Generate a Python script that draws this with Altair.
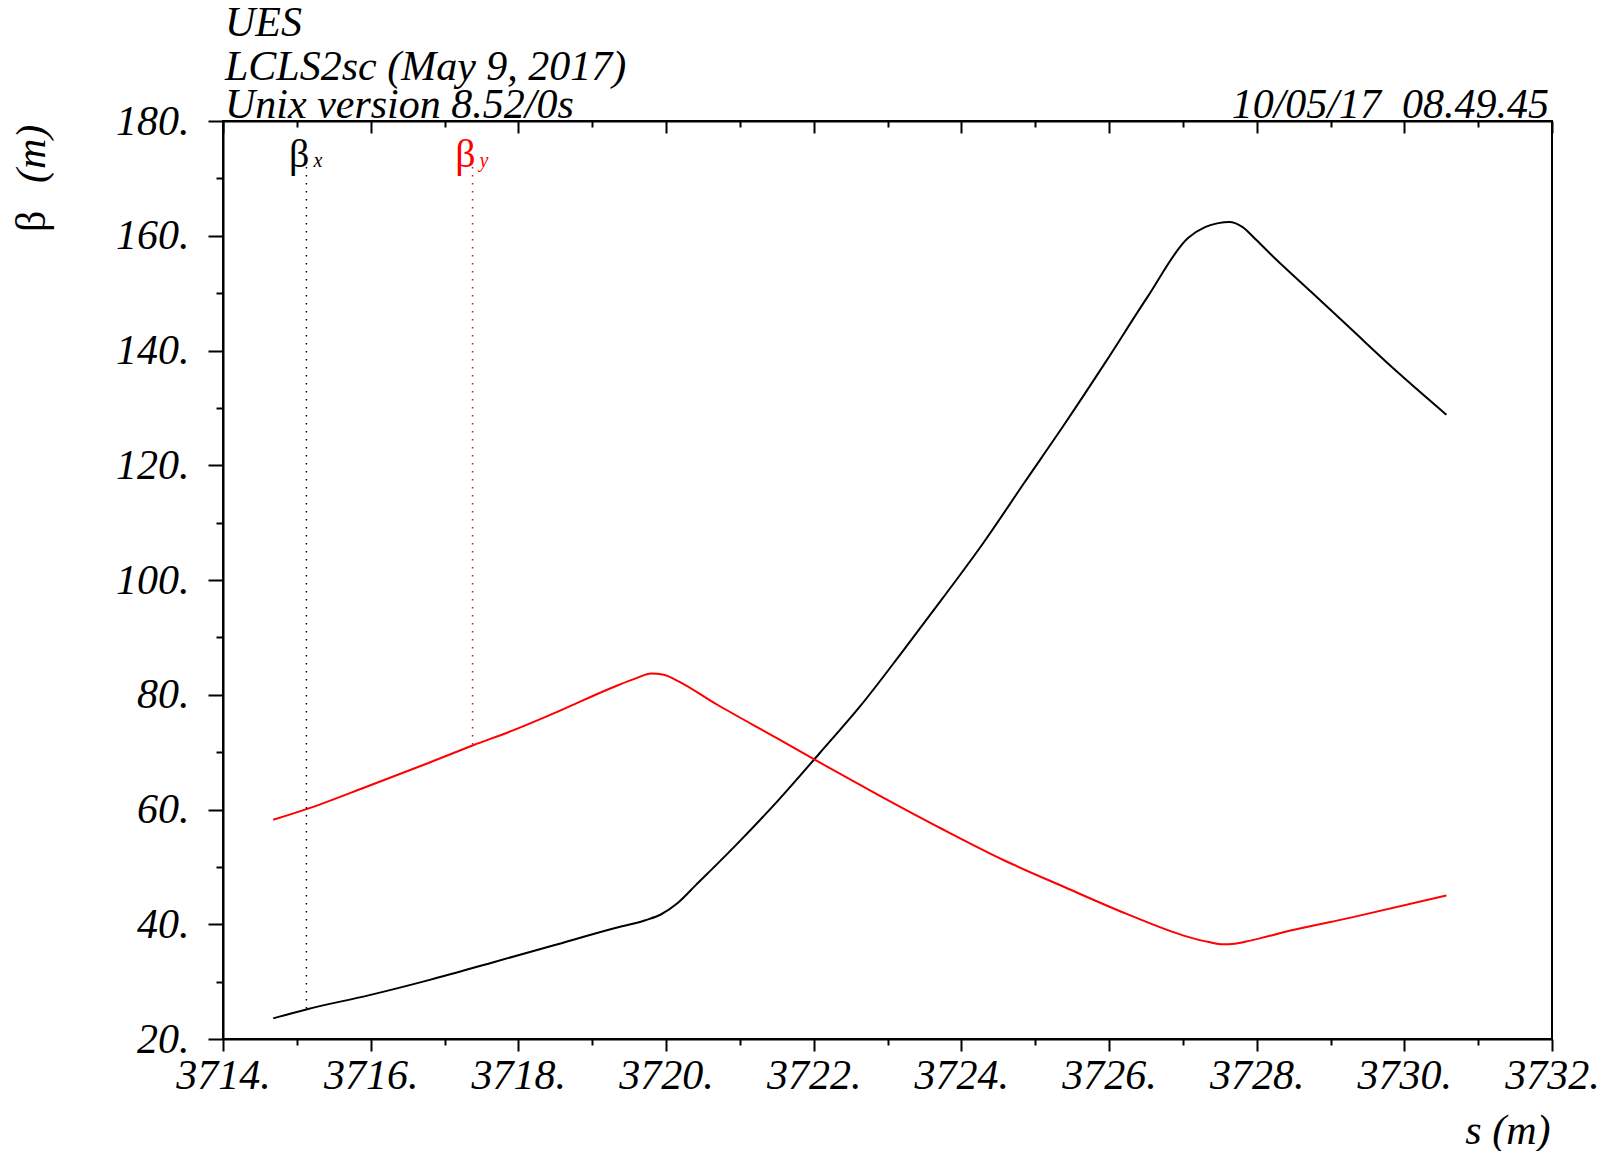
import altair as alt
import pandas as pd

# ---- data ----
s_bx = [3714.68, 3715.14, 3715.97, 3716.80, 3717.64, 3718.47, 3719.30, 3719.72, 3719.93,
        3720.15, 3720.41, 3720.97, 3721.52, 3722.08, 3722.63, 3723.19, 3723.74, 3724.30,
        3724.85, 3725.41, 3725.96, 3726.52, 3727.07, 3727.30, 3727.48, 3727.63, 3727.80,
        3728.00, 3728.18, 3728.74, 3729.29, 3729.85, 3730.57]
beta_x = [23.6, 25.2, 27.6, 30.3, 33.3, 36.3, 39.3, 40.7, 41.7,
          43.6, 46.9, 54.1, 61.6, 69.8, 78.0, 87.3, 96.7, 106.5,
          116.9, 127.4, 138.1, 149.3, 159.6, 161.5, 162.2, 162.4, 161.6,
          159.2, 156.9, 150.2, 143.6, 136.9, 128.8]

s_by = [3714.68, 3715.14, 3715.97, 3716.80, 3717.39, 3717.91, 3718.47, 3719.30, 3719.60,
        3719.80, 3719.97, 3720.13, 3720.69, 3721.52, 3722.08, 3722.91, 3723.74, 3724.57,
        3725.41, 3726.24, 3727.07, 3727.35, 3727.55, 3727.70, 3727.90, 3728.46, 3729.29,
        3730.57]
beta_y = [58.2, 60.1, 64.1, 68.2, 71.2, 73.7, 76.7, 81.4, 82.9,
          83.7, 83.5, 82.6, 78.3, 72.3, 68.2, 62.3, 56.6, 51.2,
          46.4, 41.8, 37.8, 36.9, 36.5, 36.6, 37.1, 38.9, 41.2,
          45.0]

marker_s = [3715.13, 3717.38]
marker_lo = [25.2, 71.2]
marker_hi = [172.0, 172.0]
marker_sub = ["x", "y"]

x_ticks = list(range(3714, 3733))
y_ticks = list(range(20, 181, 10))

header_lines = ["UES", "LCLS2sc (May 9, 2017)", "Unix version 8.52/0s"]
stamp = "10/05/17\u00a0\u00a008.49.45"
x_title = "s (m)"
y_title_sym = "β"
y_title_unit = "(m)"

# ---- layout / style ----
W, H = 1329, 918
FONT = "Liberation Serif"
FS = 42
series_colors = ["#000000", "#ff0000"]

xscale = alt.Scale(domain=[3714, 3732], nice=False, zero=False)
yscale = alt.Scale(domain=[20, 180], nice=False, zero=False)
cscale = alt.Scale(domain=["x", "y"], range=series_colors)

df = pd.concat([
    pd.DataFrame({"s": s_bx, "beta": beta_x, "series": "x"}),
    pd.DataFrame({"s": s_by, "beta": beta_y, "series": "y"}),
], ignore_index=True)

mk = pd.DataFrame({"s": marker_s, "lo": marker_lo, "hi": marker_hi, "series": marker_sub})

common_axis = dict(
    labelFont=FONT, labelFontSize=FS, labelFontStyle="italic", labelColor="black",
    tickColor="black", tickWidth=2, domainColor="black", domainWidth=2, grid=False,
    labelFlush=False, labelOverlap=False,
)

x_axis = alt.Axis(
    orient="bottom",
    values=x_ticks,
    labelExpr="datum.value % 2 === 0 ? datum.value + '.' : ''",
    tickSize={"condition": {"test": "datum.value % 2 === 0", "value": 12}, "value": 6},
    labelPadding=4,
    title=x_title, titleFont=FONT, titleFontSize=FS, titleFontStyle="italic",
    titleFontWeight="normal", titleColor="black", titleAlign="right",
    titleBaseline="alphabetic", titleX=W - 2, titleY=104, titleAnchor="end",
    **common_axis,
)

x_axis_top = alt.Axis(
    orient="bottom", values=x_ticks, labels=False, title=None, offset=-H,
    tickSize={"condition": {"test": "datum.value % 2 === 0", "value": 12}, "value": 6},
    tickColor="black", tickWidth=2, domainColor="black", domainWidth=2, grid=False,
)

y_axis = alt.Axis(
    values=y_ticks,
    labelExpr="datum.value % 20 === 0 ? datum.value + '.' : ''",
    tickSize={"condition": {"test": "datum.value % 20 === 0", "value": 15}, "value": 7},
    labelPadding=19, labelAlign="right", labelBaseline="middle",
    title=None,
    **common_axis,
)

lines = alt.Chart(df).mark_line(strokeWidth=2, interpolate="monotone").encode(
    x=alt.X("s:Q", scale=xscale, axis=x_axis),
    y=alt.Y("beta:Q", scale=yscale, axis=y_axis),
    color=alt.Color("series:N", scale=cscale, legend=None),
)

rules = alt.Chart(mk).mark_rule(strokeDash=[1.5, 6.5], strokeWidth=1.5).encode(
    x=alt.X("s:Q", scale=xscale, axis=x_axis_top),
    y=alt.Y("hi:Q", scale=yscale, axis=y_axis),
    y2="lo:Q",
    color=alt.Color("series:N", scale=cscale, legend=None),
)

beta_lbl = alt.Chart(mk).mark_text(
    font=FONT, fontSize=40, align="right", baseline="alphabetic", dx=3
).encode(
    x=alt.X("s:Q", scale=xscale, axis=None),
    y=alt.Y("hi:Q", scale=yscale, axis=y_axis),
    text=alt.value("β"),
    color=alt.Color("series:N", scale=cscale, legend=None),
)

sub_lbl = alt.Chart(mk).mark_text(
    font=FONT, fontSize=20, fontStyle="italic", align="left", baseline="alphabetic", dx=7
).encode(
    x=alt.X("s:Q", scale=xscale, axis=None),
    y=alt.Y("hi:Q", scale=yscale, axis=y_axis),
    text="series:N",
    color=alt.Color("series:N", scale=cscale, legend=None),
)


def note(txt, x, y, align="left", style="italic", angle=0, size=FS):
    kw = dict(font=FONT, fontSize=size, fontStyle=style, align=align,
              baseline="alphabetic", color="black")
    if angle:
        kw["angle"] = angle
    return alt.Chart(pd.DataFrame({"t": [txt]})).mark_text(**kw).encode(
        x=alt.value(x), y=alt.value(y), text="t:N")


header_ys = [-85, -41, -3]
notes = [note(t, 2, y) for t, y in zip(header_lines, header_ys)]
notes.append(note(stamp, W - 3, -3, align="right"))
notes.append(note(y_title_sym, -178, 111, style="normal", angle=270))
notes.append(note(y_title_unit, -178, 62, angle=270))

chart = alt.layer(lines, rules, beta_lbl, sub_lbl, *notes).resolve_axis(
    x="independent"
).properties(
    width=W, height=H,
    background="white",
    autosize=alt.AutoSizeParams(type="none"),
    padding={"left": 215, "top": 113, "right": 46, "bottom": 112},
).configure_view(
    stroke="black", strokeWidth=2
)

chart.save("out.html", embed_options={"renderer": "svg", "actions": False})
